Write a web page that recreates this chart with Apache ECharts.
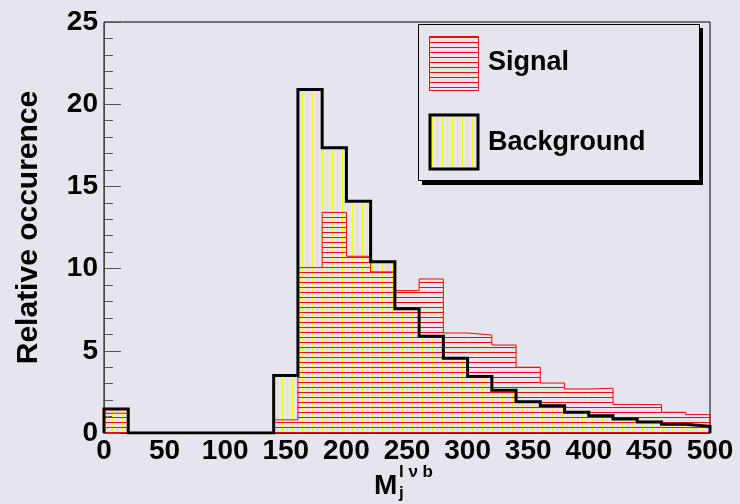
<!DOCTYPE html>
<html>
<head>
<meta charset="utf-8">
<script src="https://cdn.jsdelivr.net/npm/echarts@6/dist/echarts.min.js"></script>
<style>
  html, body { margin: 0; padding: 0; background: #e5e5ee; }
  #chart { width: 740px; height: 504px; }
</style>
</head>
<body>
<div id="chart"></div>
<script>
// Histogram bins: lower edges, 20 GeV wide
const binLow = [0, 20, 40, 60, 80, 100, 120, 140, 160, 180, 200, 220, 240,
                260, 280, 300, 320, 340, 360, 380, 400, 420, 440, 460, 480];
const binWidth = 20;
const signal = [1.2, 0, 0, 0, 0, 0, 0, 0.8, 10.06, 13.42, 10.75, 9.8, 8.66,
                9.37, 6.08, 5.96, 5.35, 4.0, 3.04, 2.68, 2.72, 1.74, 1.72, 1.26, 1.12];
const background = [1.46, 0, 0, 0, 0, 0, 0, 3.49, 20.9, 17.35, 14.1, 10.42, 7.56,
                    5.88, 4.54, 3.43, 2.6, 1.9, 1.66, 1.26, 1.05, 0.85, 0.67, 0.53, 0.41];
const xTicks = [0, 50, 100, 150, 200, 250, 300, 350, 400, 450, 500];
const yTicks = [0, 5, 10, 15, 20, 25];

const BG = '#e5e5ee';
const FONT = '"Liberation Sans", Arial, Helvetica, sans-serif';

// Hatch fills: vertical yellow lines and horizontal red lines
function hatch(color, vertical) {
  const c = document.createElement('canvas');
  c.width = 5; c.height = 5;
  const g = c.getContext('2d');
  g.fillStyle = color;
  if (vertical) g.fillRect(2, 0, 1, 5); else g.fillRect(0, 2, 5, 1);
  return { image: c, repeat: 'repeat' };
}
const yellowHatch = hatch('#ffff00', true);
const redHatch = hatch('#ff0000', false);

function binData(vals) {
  return binLow.map((lo, i) => [lo, lo + binWidth, vals[i]]);
}
// Step outline along the histogram contour
function stepOutline(vals) {
  const pts = [[binLow[0], 0]];
  binLow.forEach((lo, i) => { pts.push([lo, vals[i]]); pts.push([lo + binWidth, vals[i]]); });
  pts.push([binLow[binLow.length - 1] + binWidth, 0]);
  return pts;
}
function fillSeries(vals, pattern, z) {
  return {
    type: 'custom', z: z, silent: true,
    data: binData(vals),
    renderItem: function (params, api) {
      const p0 = api.coord([api.value(0), api.value(2)]);
      const p1 = api.coord([api.value(1), 0]);
      return {
        type: 'rect',
        shape: { x: p0[0], y: p0[1], width: p1[0] - p0[0], height: p1[1] - p0[1] },
        style: { fill: pattern, stroke: null }
      };
    }
  };
}
function outlineSeries(vals, color, width, z) {
  return {
    type: 'line', z: z, silent: true, showSymbol: false, animation: false,
    data: stepOutline(vals),
    lineStyle: { color: color, width: width, join: 'miter' }
  };
}

const chart = echarts.init(document.getElementById('chart'), null, { renderer: 'canvas' });
chart.setOption({
  backgroundColor: BG,
  animation: false,
  grid: { left: 104, right: 30, top: 22, bottom: 71, show: true, borderColor: '#000', borderWidth: 1, backgroundColor: BG },
  xAxis: {
    type: 'value', min: xTicks[0], max: xTicks[xTicks.length - 1], interval: 50,
    axisLine: { show: true, lineStyle: { color: '#333', width: 1 } },
    axisTick: { show: false },
    splitLine: { show: false },
    axisLabel: { fontFamily: FONT, fontWeight: 'bold', fontSize: 28, color: '#000', margin: 4 }
  },
  yAxis: {
    type: 'value', min: yTicks[0], max: yTicks[yTicks.length - 1], interval: 5,
    name: 'Relative occurence', nameLocation: 'middle', nameRotate: 90, nameGap: 60,
    nameTextStyle: { fontFamily: FONT, fontWeight: 'bold', fontSize: 30, color: '#000' },
    axisLine: { show: true, lineStyle: { color: '#444', width: 1 } },
    axisTick: { show: true, inside: true, length: 17, lineStyle: { color: '#555' } },
    minorTick: { show: true, splitNumber: 5, length: 9, lineStyle: { color: '#555' } },
    splitLine: { show: false },
    axisLabel: { fontFamily: FONT, fontWeight: 'bold', fontSize: 28, color: '#000', margin: 6 }
  },
  series: [
    fillSeries(background, yellowHatch, 1),
    fillSeries(signal, redHatch, 2),
    outlineSeries(signal, '#ff0000', 1, 3),
    outlineSeries(background, '#000', 3, 4)
  ],
  graphic: [
    // legend box with drop shadow
    { type: 'rect', z: 10, shape: { x: 422, y: 28, width: 281, height: 157 }, style: { fill: '#000' } },
    { type: 'rect', z: 11, shape: { x: 418.5, y: 24.5, width: 281, height: 156 }, style: { fill: BG, stroke: '#000', lineWidth: 1 } },
    { type: 'rect', z: 12, shape: { x: 429.5, y: 36.5, width: 49, height: 54 }, style: { fill: redHatch, stroke: '#ff0000', lineWidth: 1 } },
    { type: 'rect', z: 12, shape: { x: 430, y: 115, width: 48, height: 54 }, style: { fill: yellowHatch, stroke: '#000', lineWidth: 3 } },
    { type: 'text', z: 12, left: 488, top: 49, style: { text: 'Signal', font: 'bold 27px ' + FONT, fill: '#000' } },
    { type: 'text', z: 12, left: 488, top: 129, style: { text: 'Background', font: 'bold 27px ' + FONT, fill: '#000' } },
    // x-axis title: M with sub/superscripts
    { type: 'text', z: 12, left: 374, top: 472, style: { text: 'M', font: 'bold 28px ' + FONT, fill: '#000' } },
    { type: 'text', z: 12, left: 399, top: 464, style: { text: 'l \u03bd b', font: 'bold 17px ' + FONT, fill: '#000' } },
    { type: 'text', z: 12, left: 399, top: 485, style: { text: 'j', font: 'bold 17px ' + FONT, fill: '#000' } }
  ]
});
</script>
</body>
</html>
